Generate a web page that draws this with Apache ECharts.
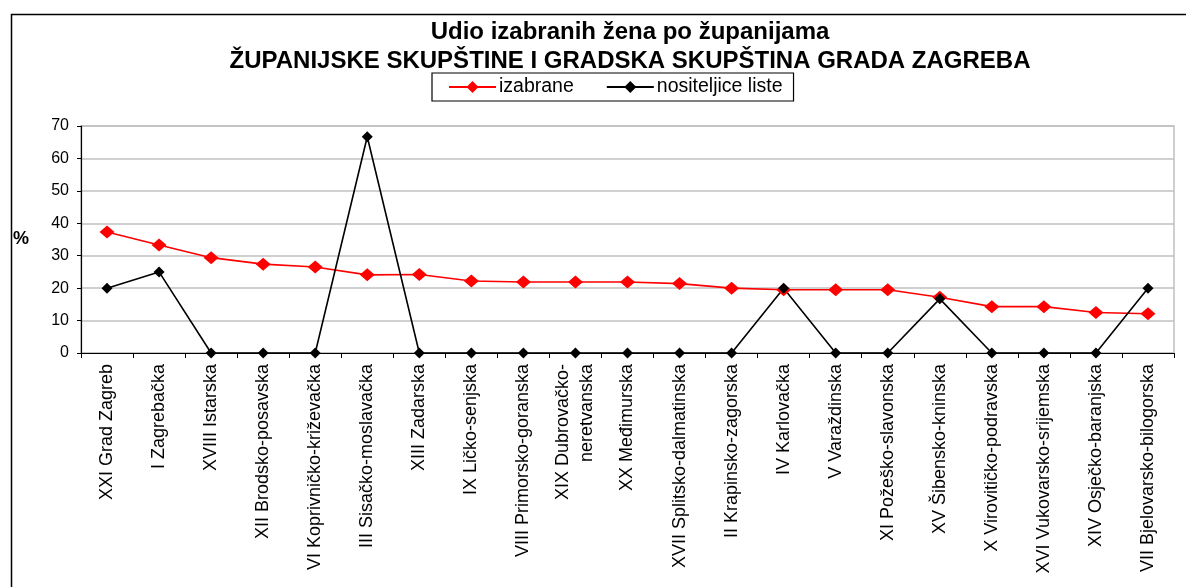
<!DOCTYPE html>
<html>
<head>
<meta charset="utf-8">
<script src="https://cdn.jsdelivr.net/npm/echarts@6/dist/echarts.min.js"></script>
<style>
html,body{margin:0;padding:0;background:#fff;}
#main{width:1186px;height:587px;}
</style>
</head>
<body>
<div id="main"></div>
<script>
var counties=['XXI Grad Zagreb','I Zagrebačka','XVIII Istarska','XII Brodsko-posavska',
    'VI Koprivničko-križevačka','III Sisačko-moslavačka','XIII Zadarska','IX Ličko-senjska',
    'VIII Primorsko-goranska','XIX Dubrovačko-\nneretvanska','XX Međimurska','XVII Splitsko-dalmatinska',
    'II Krapinsko-zagorska','IV Karlovačka','V Varaždinska','XI Požeško-slavonska',
    'XV Šibensko-kninska','X Virovitičko-podravska','XVI Vukovarsko-srijemska',
    'XIV Osječko-baranjska','VII Bjelovarsko-bilogorska'];
var izabrane=[37.3,33.3,29.4,27.4,26.5,24.1,24.2,22.2,21.9,21.9,21.9,21.4,20.0,19.5,19.5,19.5,17.2,14.3,14.3,12.5,12.1];
var nositeljice=[20.0,25.0,0,0,0,66.7,0,0,0,0,0,0,0,20.0,0,0,16.7,0,0,0,20.0];

var font='"Liberation Sans", Arial, sans-serif';
var chart=echarts.init(document.getElementById('main'));
chart.setOption({
    animation:false,
    textStyle:{fontFamily:font},
    title:{
        text:'Udio izabranih žena po županijama\nŽUPANIJSKE SKUPŠTINE I GRADSKA SKUPŠTINA GRADA ZAGREBA',
        left:630, top:18, textAlign:'center', padding:0,
        textStyle:{fontSize:24, fontWeight:'bold', color:'#000', lineHeight:29, fontFamily:font}
    },
    legend:{
        left:432, top:73, width:369, height:28,
        padding:[4,11,4,16],
        borderColor:'#000', borderWidth:1.2,
        itemWidth:47, itemHeight:15, itemGap:32,
        textStyle:{fontSize:19.5, color:'#000', fontFamily:font, padding:[0,0,0,-2]},
        data:['izabrane','nositeljice liste']
    },
    graphic:[{
        type:'rect', left:9, top:12, silent:true,
        shape:{width:1250, height:650},
        style:{fill:'none', stroke:'#000', lineWidth:1.5}
    }],
    grid:{left:81, right:12, top:126, bottom:234, show:true, borderColor:'#c0c0c0', borderWidth:1.5},
    xAxis:{
        type:'category', data:counties, boundaryGap:true,
        axisLine:{lineStyle:{color:'#000', width:1.2}},
        axisTick:{show:true, length:5, inside:false, lineStyle:{color:'#000'}},
        axisLabel:{interval:0, rotate:90, fontSize:18, color:'#000', margin:11, lineHeight:24, fontFamily:font}
    },
    yAxis:{
        type:'value', min:0, max:70, interval:10,
        name:'%', nameLocation:'middle', nameRotate:0, nameGap:52,
        nameTextStyle:{fontSize:18, fontWeight:'bold', color:'#000', fontFamily:font},
        axisLine:{show:true, lineStyle:{color:'#000', width:1.2}},
        axisTick:{show:true, length:4, lineStyle:{color:'#000'}},
        axisLabel:{fontSize:16, color:'#000', margin:12, fontFamily:font},
        splitLine:{lineStyle:{color:'#c0c0c0', width:1.5}}
    },
    series:[{
        name:'izabrane', type:'line', data:izabrane,
        symbol:'diamond', symbolSize:[15,13],
        lineStyle:{color:'#ff0000', width:1.6},
        itemStyle:{color:'#ff0000'}
    },{
        name:'nositeljice liste', type:'line', data:nositeljice,
        symbol:'diamond', symbolSize:[11,11], z:3,
        lineStyle:{color:'#000', width:1.6},
        itemStyle:{color:'#000'}
    }]
});
</script>
</body>
</html>
